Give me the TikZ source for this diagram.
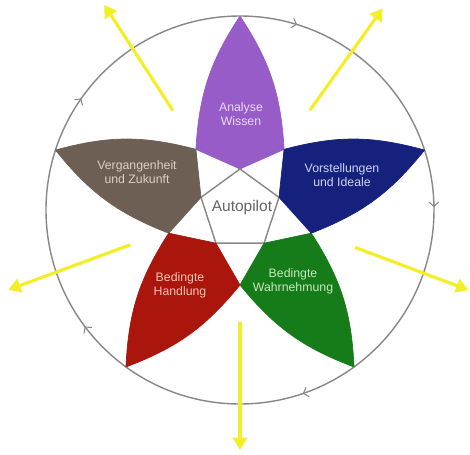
\documentclass[tikz,border=0pt]{standalone}
\usepackage{fontspec}
\setmainfont{Liberation Sans}
\usetikzlibrary{arrows.meta,decorations.markings}
\definecolor{cpurple}{RGB}{152,92,200}
\definecolor{cbrown}{RGB}{110,95,84}
\definecolor{cred}{RGB}{170,22,12}
\definecolor{cgreen}{RGB}{22,124,26}
\definecolor{cblue}{RGB}{22,32,125}
\definecolor{tpurple}{RGB}{232,218,246}
\definecolor{tbrown}{RGB}{218,208,198}
\definecolor{tred}{RGB}{246,196,182}
\definecolor{tgreen}{RGB}{196,232,190}
\definecolor{tblue}{RGB}{205,212,242}
\definecolor{cgray}{RGB}{135,135,135}
\definecolor{tgray}{RGB}{100,100,100}
\definecolor{cyellow}{RGB}{243,238,40}
\begin{document}
\begin{tikzpicture}[
  petal/.style={draw=#1, line width=0.4pt, fill=#1},
  ptext/.style={font=\fontsize{7}{8}\selectfont, align=center, text=#1, inner sep=0pt},
  ray/.style={draw=cyellow, line width=1.8pt, -{Triangle[length=7pt,width=8pt]}},
  ring/.style={draw=cgray, line width=0.8pt},
  chev/.style={draw=cgray, line width=0.6pt}
]
\useasboundingbox (-4.8,-4.88) rectangle (4.6,4.2);

% geometry
\foreach \k in {0,...,4} {
  \pgfmathsetmacro\th{90+72*\k}
  \coordinate (T\k) at (\th:3.88);
  \coordinate (V\k) at (\th:0.82);
  \coordinate (K\k) at (\th+36:1.5);
}

% outer circle with clockwise chevrons
\draw[ring, postaction={decorate}, decoration={markings,
  mark=at position 0.047 with {\draw[chev] (-2.5pt,2.8pt) -- (0,0) -- (-2.5pt,-2.8pt);},
  mark=at position 0.247 with {\draw[chev] (-2.5pt,2.8pt) -- (0,0) -- (-2.5pt,-2.8pt);},
  mark=at position 0.447 with {\draw[chev] (-2.5pt,2.8pt) -- (0,0) -- (-2.5pt,-2.8pt);},
  mark=at position 0.647 with {\draw[chev] (-2.5pt,2.8pt) -- (0,0) -- (-2.5pt,-2.8pt);},
  mark=at position 0.847 with {\draw[chev] (-2.5pt,2.8pt) -- (0,0) -- (-2.5pt,-2.8pt);}}]
  (90:3.88) arc[start angle=90, end angle=-270, radius=3.88cm];

% central pentagon
\draw[ring] (V0) -- (V1) -- (V2) -- (V3) -- (V4) -- cycle;

% petals
\path[petal=cpurple] (K0) to[bend left=15] (T0) to[bend left=15] (K4) -- (V0) -- cycle;
\path[petal=cbrown]  (K1) to[bend left=15] (T1) to[bend left=15] (K0) -- (V1) -- cycle;
\path[petal=cred]    (K2) to[bend left=15] (T2) to[bend left=15] (K1) -- (V2) -- cycle;
\path[petal=cgreen]  (K3) to[bend left=15] (T3) to[bend left=15] (K2) -- (V3) -- cycle;
\path[petal=cblue]   (K4) to[bend left=15] (T4) to[bend left=15] (K3) -- (V4) -- cycle;

% labels
\node[ptext=tpurple] (analyse) at (0.02,1.92) {Analyse\\Wissen};
\node[ptext=tbrown] (vergangen) at (-2.06,0.76) {Vergangenheit\\und Zukunft};
\node[ptext=tblue] (vorstell) at (2.04,0.70) {Vorstellungen\\und Ideale};
\node[ptext=tred] (handlung) at (-1.2,-1.5) {Bedingte\\Handlung};
\node[ptext=tgreen] (wahrn) at (1.06,-1.42) {Bedingte\\Wahrnehmung};
\node[font=\fontsize{8.8}{10}\selectfont, text=tgray, inner sep=0pt] (auto) at (0.04,0.06) {Autopilot};

% yellow rays
\coordinate (s1) at (124:2.40);   \coordinate (e1) at (123.5:4.92);
\coordinate (s2) at (55:2.44);    \coordinate (e2) at (54.7:4.94);
\coordinate (s3) at (-18:2.42);   \coordinate (e3) at (-19.3:4.84);
\coordinate (s4) at (-90:2.24);   \coordinate (e4) at (-90:4.80);
\coordinate (s5) at (197.6:2.30); \coordinate (e5) at (199:4.90);
\foreach \i in {1,...,5} { \draw[ray] (s\i) -- (e\i); }
\end{tikzpicture}
\end{document}
